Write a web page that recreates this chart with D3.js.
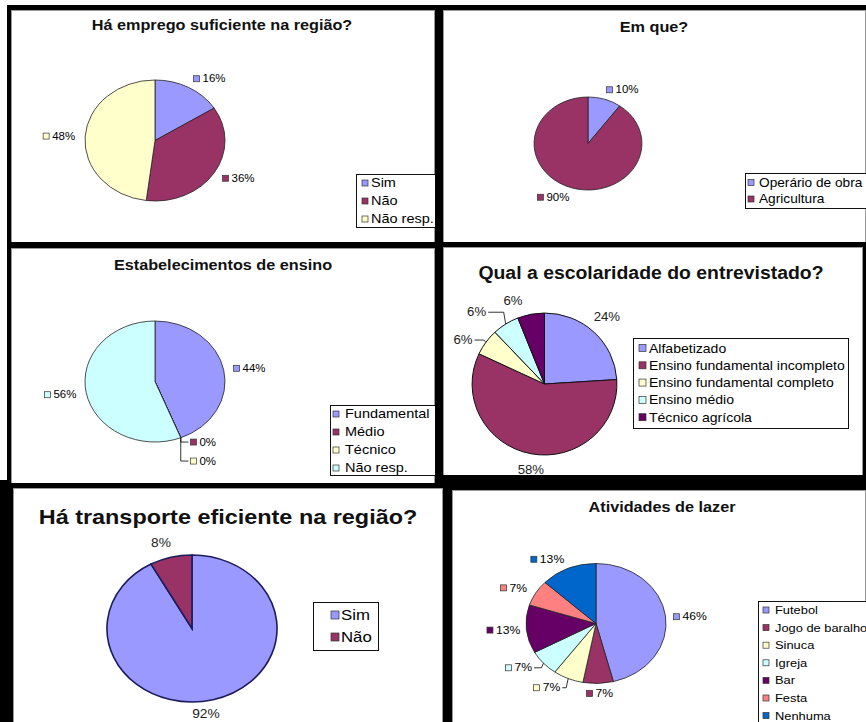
<!DOCTYPE html>
<html>
<head>
<meta charset="utf-8">
<script src="https://cdn.jsdelivr.net/npm/d3@7"></script>
<style>
  body { margin: 0; background: #fff; }
  svg { display: block; }
  text { font-family: "Liberation Sans", Arial, sans-serif; }
</style>
</head>
<body>
<script>
// --- data ---
const empregoTitle = "Há emprego suficiente na região?";
const empregoCats = ["Sim", "Não", "Não resp."];
const empregoVals = [16, 36, 48];

const emQueTitle = "Em que?";
const emQueCats = ["Operário de obra", "Agricultura"];
const emQueVals = [10, 90];

const ensinoTitle = "Estabelecimentos de ensino";
const ensinoCats = ["Fundamental", "Médio", "Técnico", "Não resp."];
const ensinoVals = [44, 0, 0, 56];

const escolTitle = "Qual a escolaridade do entrevistado?";
const escolCats = ["Alfabetizado", "Ensino fundamental incompleto", "Ensino fundamental completo", "Ensino médio", "Técnico agrícola"];
const escolVals = [24, 58, 6, 6, 6];

const transpTitle = "Há transporte eficiente na região?";
const transpCats = ["Sim", "Não"];
const transpVals = [92, 8];

const lazerTitle = "Atividades de lazer";
const lazerCats = ["Futebol", "Jogo de baralho", "Sinuca", "Igreja", "Bar", "Festa", "Nenhuma"];
const lazerVals = [46, 7, 7, 7, 13, 7, 13];

// excel default pie colours
const palette = ["#9999FF", "#993366", "#FFFFCC", "#CCFFFF", "#660066", "#FF8080", "#0066CC"];

const W = 866, H = 722;

const svg = d3.select("body").append("svg")
  .attr("width", W)
  .attr("height", H);

// black frames behind the six panels
svg.append("rect").attr("x", 7).attr("y", 5).attr("width", W - 7).attr("height", H - 5).attr("fill", "#000");
svg.append("rect").attr("x", 0).attr("y", 480).attr("width", 7).attr("height", H - 480).attr("fill", "#000");

// layout of each panel (the scanned picture is a bit stretched sideways, hence sx)
const charts = [
  {title: empregoTitle, cats: empregoCats, vals: empregoVals,
   box: [11, 10, 424, 232], titleAt: [222, 25], titleSize: 14.5, titleSx: 1.12,
   cx: 155, cy: 140.5, ry: 60.5, sx: 1.157, gap: 10, stroke: "#222", sw: 0.8,
   lab: {size: 10, sx: 1.15, marker: true, fill: "#000"},
   legend: {x: 356, y: 174, w: 82, h: 53, y0: 183, step: 18, mx: 362, tx: 371, size: 12.5, sx: 1.16, ms: 6},
   nudge: {}},
  {title: emQueTitle, cats: emQueCats, vals: emQueVals,
   box: [443, 10, 423, 232], titleAt: [654, 27], titleSize: 14.5, titleSx: 1.12,
   cx: 588, cy: 143.5, ry: 46.5, sx: 1.16, gap: 10, stroke: "#222", sw: 0.8,
   lab: {size: 10, sx: 1.15, marker: true, fill: "#000"},
   legend: {x: 745, y: 173, w: 130, h: 35, y0: 182.5, step: 16.5, mx: 748, tx: 759, size: 12, sx: 1.14, ms: 6},
   nudge: {}},
  {title: ensinoTitle, cats: ensinoCats, vals: ensinoVals,
   box: [11, 248, 424, 235], titleAt: [223, 265], titleSize: 14.5, titleSx: 1.12,
   cx: 155, cy: 381.5, ry: 60.5, sx: 1.157, gap: 10, stroke: "#222", sw: 0.8,
   lab: {size: 10, sx: 1.15, marker: true, fill: "#000"},
   legend: {x: 330, y: 405, w: 110, h: 70, y0: 414, step: 18, mx: 333, tx: 345, size: 12.5, sx: 1.16, ms: 6},
   nudge: {1: [6, -5, true], 2: [6, 14, true]}},
  {title: escolTitle, cats: escolCats, vals: escolVals,
   box: [443, 247, 420, 228], titleAt: [651, 273], titleSize: 18.5, titleSx: 1.05,
   cx: 544.5, cy: 384, ry: 71, sx: 1.02, gap: 14, stroke: "#111", sw: 1,
   lab: {size: 12, sx: 1.1, marker: false, fill: "#222"},
   legend: {x: 633, y: 338, w: 215, h: 90, y0: 348, step: 17.3, mx: 639, tx: 649, size: 13, sx: 1.08, ms: 7},
   nudge: {0: [-10, -5], 1: [10, 2], 2: [-2, 6, true], 3: [-12, 0, true], 4: [-10, 0]}},
  {title: transpTitle, cats: transpCats, vals: transpVals,
   box: [13, 488, 430, 234], titleAt: [228, 517], titleSize: 21, titleSx: 1.115,
   cx: 192, cy: 628.5, ry: 73.5, sx: 1.157, gap: 10, stroke: "#1c1c5c", sw: 1.6,
   lab: {size: 12.5, sx: 1.1, marker: false, fill: "#222"},
   legend: {x: 313, y: 602, w: 65, h: 48, y0: 615, step: 22, mx: 331, tx: 341, size: 14, sx: 1.2, ms: 8},
   nudge: {0: [-20, 4], 1: [0, -5]}},
  {title: lazerTitle, cats: lazerCats, vals: lazerVals,
   box: [452, 490, 414, 232], titleAt: [662, 507], titleSize: 14.5, titleSx: 1.12,
   cx: 596, cy: 623.5, ry: 60, sx: 1.167, gap: 10, stroke: "#222", sw: 0.8,
   lab: {size: 10.5, sx: 1.16, marker: true, fill: "#000"},
   legend: {x: 758, y: 601, w: 120, h: 130, y0: 610, step: 17.6, mx: 763, tx: 775, size: 11.5, sx: 1.12, ms: 6},
   nudge: {0: [-2, 2], 2: [-4, 0, true], 3: [-4, -2, true], 4: [4, 0]}}
];

// text squeezed/stretched sideways around its anchor
function addText(parent, x, y, str, size, sx, anchor, weight, fill) {
  const g = parent.append("g").attr("transform", `translate(${x},${y}) scale(${sx},1)`);
  return g.append("text")
    .attr("dy", "0.35em")
    .attr("text-anchor", anchor || "start")
    .attr("font-size", size)
    .attr("font-weight", weight || "normal")
    .attr("fill", fill || "#000")
    .text(str);
}

const pie = d3.pie().sort(null).value(d => d);

charts.forEach((c, ci) => {
  const [bx, by, bw, bh] = c.box;
  svg.append("clipPath").attr("id", "clip" + ci)
    .append("rect").attr("x", bx).attr("y", by).attr("width", bw).attr("height", bh);

  const g = svg.append("g").attr("clip-path", `url(#clip${ci})`);
  g.append("rect")
    .attr("x", bx).attr("y", by).attr("width", bw).attr("height", bh)
    .attr("fill", "#fff");
  g.append("rect")
    .attr("x", bx + 0.5).attr("y", by + 0.5).attr("width", bw - 1).attr("height", bh + 2)
    .attr("fill", "none").attr("stroke", "#999").attr("stroke-width", 1);

  // title
  addText(g, c.titleAt[0], c.titleAt[1], c.title, c.titleSize, c.titleSx, "middle", "bold", "#111");

  // pie
  const arcs = pie(c.vals);
  const total = d3.sum(c.vals);
  const rx = c.ry * c.sx;
  const arc = d3.arc().innerRadius(0).outerRadius(c.ry);
  g.append("g")
    .attr("transform", `translate(${c.cx},${c.cy}) scale(${c.sx},1)`)
    .selectAll("path")
    .data(arcs)
    .join("path")
    .attr("d", arc)
    .attr("fill", (d, i) => palette[i])
    .attr("stroke", c.stroke)
    .attr("stroke-width", c.sw)
    .attr("vector-effect", "non-scaling-stroke");

  // percentage labels
  arcs.forEach((d, i) => {
    const a = (d.startAngle + d.endAngle) / 2;
    const sa = Math.sin(a), ca = Math.cos(a);
    const px = c.cx + sa * (rx + c.gap);
    const py = c.cy - ca * (c.ry + c.gap);
    const ex = c.cx + sa * rx, ey = c.cy - ca * c.ry;
    const str = Math.round(d.value / total * 100) + "%";

    const lg = g.append("g");
    const off = c.lab.marker ? 9 : 0;
    const t = addText(lg, 0, 0, str, c.lab.size, c.lab.sx, "start", "normal", c.lab.fill);
    const w = off + t.node().getComputedTextLength() * c.lab.sx;
    const f = Math.max(-1, Math.min(1, sa * 3));
    const nd = c.nudge[i] || [0, 0];
    const left = px + (f - 1) * w / 2 + nd[0];
    const ly = py + nd[1];

    t.node().parentNode.setAttribute("transform", `translate(${left + off},${ly}) scale(${c.lab.sx},1)`);
    if (c.lab.marker) {
      lg.append("rect")
        .attr("x", left).attr("y", ly - 3)
        .attr("width", 6).attr("height", 6)
        .attr("fill", palette[i])
        .attr("stroke", "#333").attr("stroke-width", 0.7);
    }
    if (nd[2]) {
      let pts;
      if (left >= ex) pts = [[ex, ey], [ex, ly], [left - 2, ly]];
      else pts = [[left + w + 2, ly], [ex - 2, ly], [ex, ey]];
      g.append("polyline")
        .attr("points", pts.map(p => p.join(",")).join(" "))
        .attr("fill", "none")
        .attr("stroke", "#000")
        .attr("stroke-width", 0.8);
    }
  });

  // legend
  const L = c.legend;
  g.append("rect")
    .attr("x", L.x + 0.5).attr("y", L.y + 0.5).attr("width", L.w).attr("height", L.h)
    .attr("fill", "#fff").attr("stroke", "#111").attr("stroke-width", 1);
  c.cats.forEach((name, i) => {
    const yy = L.y0 + i * L.step;
    g.append("rect")
      .attr("x", L.mx).attr("y", yy - L.ms / 2)
      .attr("width", L.ms).attr("height", L.ms)
      .attr("fill", palette[i])
      .attr("stroke", "#333").attr("stroke-width", 0.7);
    addText(g, L.tx, yy, name, L.size, L.sx, "start", "normal", "#000");
  });
});
</script>
</body>
</html>
